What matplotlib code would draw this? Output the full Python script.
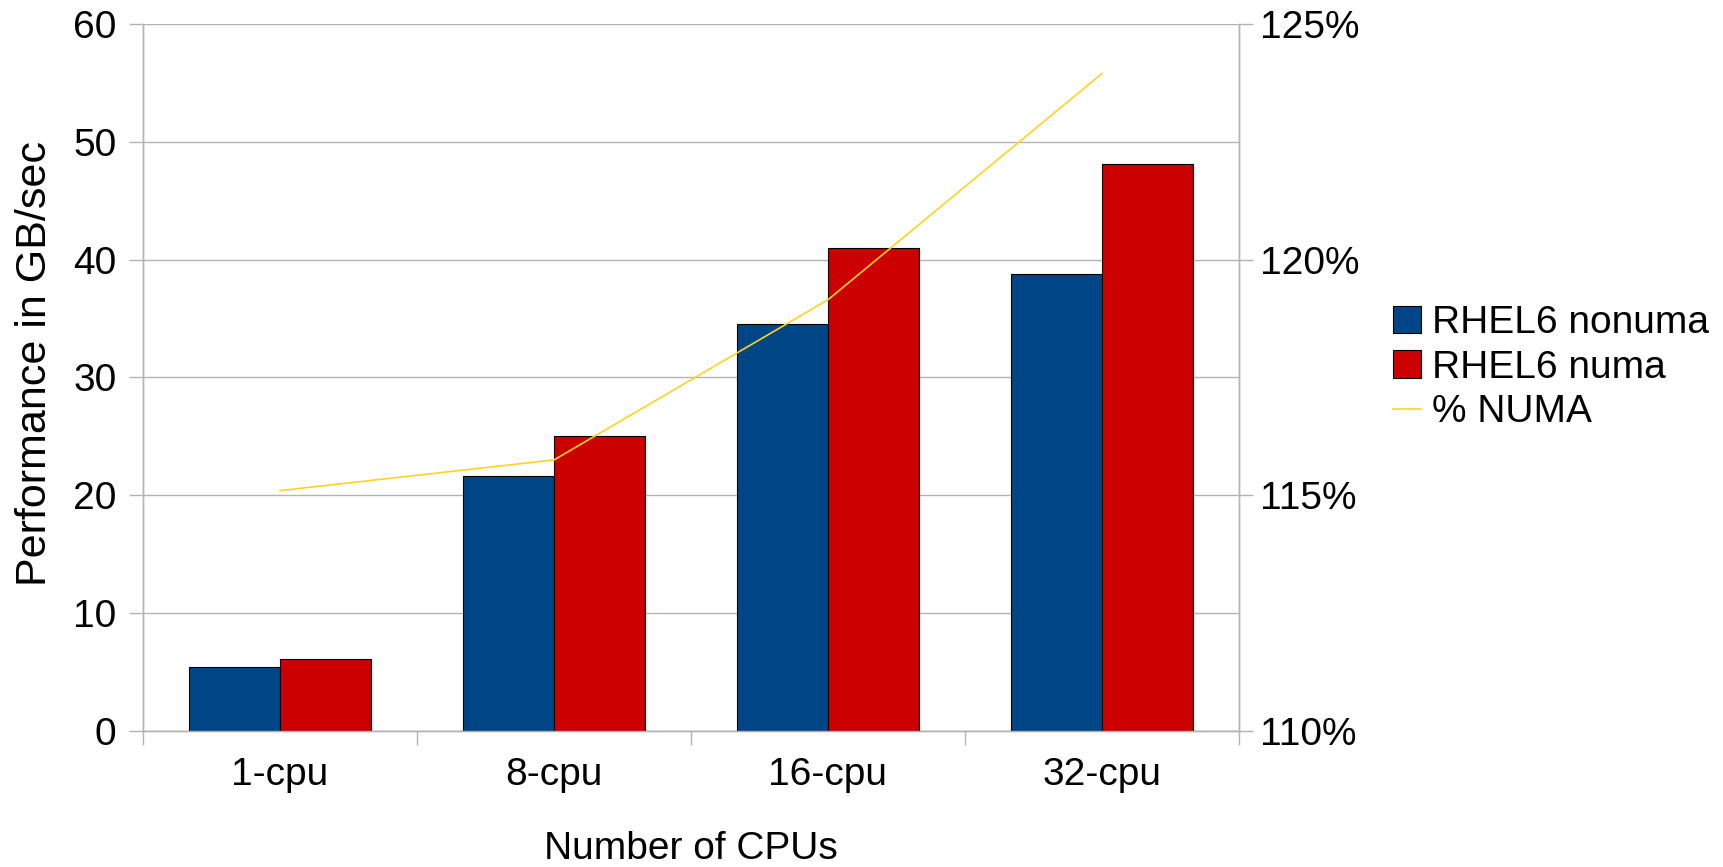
import matplotlib.pyplot as plt
import numpy as np

plt.rcParams['font.family'] = ['Liberation Sans', 'DejaVu Sans']

#-- data ----------------------------------------------------------------------
categories = ['1-cpu', '8-cpu', '16-cpu', '32-cpu']
nonuma = [5.4, 21.6, 34.5, 38.8]
numa = [6.15, 25.0, 41.0, 48.1]
pct_numa = [115.1, 115.75, 119.15, 123.95]
#------------------------------------------------------------------------------

blue = '#004586'
red = '#cc0000'
yellow = '#ffd320'
grey = '#b3b3b3'
fs = 28

fig = plt.figure(figsize=(17.24, 8.67), dpi=100)
ax = fig.add_axes([0.0829, 0.1569, 0.6358, 0.8154])
ax2 = ax.twinx()

x = np.arange(len(categories))
w = 1/3.
ax.bar(x - w/2, nonuma, w, color=blue, edgecolor='black', linewidth=0.8, label='RHEL6 nonuma', zorder=3)
ax.bar(x + w/2, numa, w, color=red, edgecolor='black', linewidth=0.8, label='RHEL6 numa', zorder=3)
ax2.plot(x, pct_numa, color=yellow, lw=1.2, label='% NUMA')

ax.set_xlim(-0.5, len(categories) - 0.5)
ax.set_ylim(0, 60)
ax.set_yticks(range(0, 61, 10))
ax2.set_ylim(110, 125)
ax2.set_yticks([110, 115, 120, 125])
ax2.set_yticklabels(['%d%%' % v for v in [110, 115, 120, 125]])

ax.set_xticks(x)
ax.set_xticklabels(categories)
ax.set_xticks(np.arange(-0.5, len(categories)), minor=True)
ax.tick_params(axis='x', which='major', length=0, pad=19, labelsize=fs)
ax.tick_params(axis='x', which='minor', length=10, color=grey, width=1)
ax.tick_params(axis='y', length=10, color=grey, width=1, pad=9, labelsize=fs)
ax2.tick_params(axis='y', length=10, color=grey, width=1, pad=5, labelsize=fs)

ax.yaxis.grid(True, color=grey, lw=1)
ax.set_axisbelow(True)
for a in (ax, ax2):
    for s in a.spines.values():
        s.set_color(grey)
        s.set_linewidth(1)
    a.spines['top'].set_visible(False)

ax.set_ylabel('Performance in GB/sec', fontsize=31)
ax.yaxis.set_label_coords(-0.080, 0.52)
ax.set_xlabel('Number of CPUs', fontsize=fs, labelpad=27)

h1, l1 = ax.get_legend_handles_labels()
h2, l2 = ax2.get_legend_handles_labels()
fig.legend(h1 + h2, l1 + l2, loc='center left', bbox_to_anchor=(0.797, 0.576),
           frameon=False, fontsize=fs, handlelength=0.7, handleheight=0.7,
           handletextpad=0.3, labelspacing=0.22, borderpad=0)

fig.savefig('out.png', dpi=100)
